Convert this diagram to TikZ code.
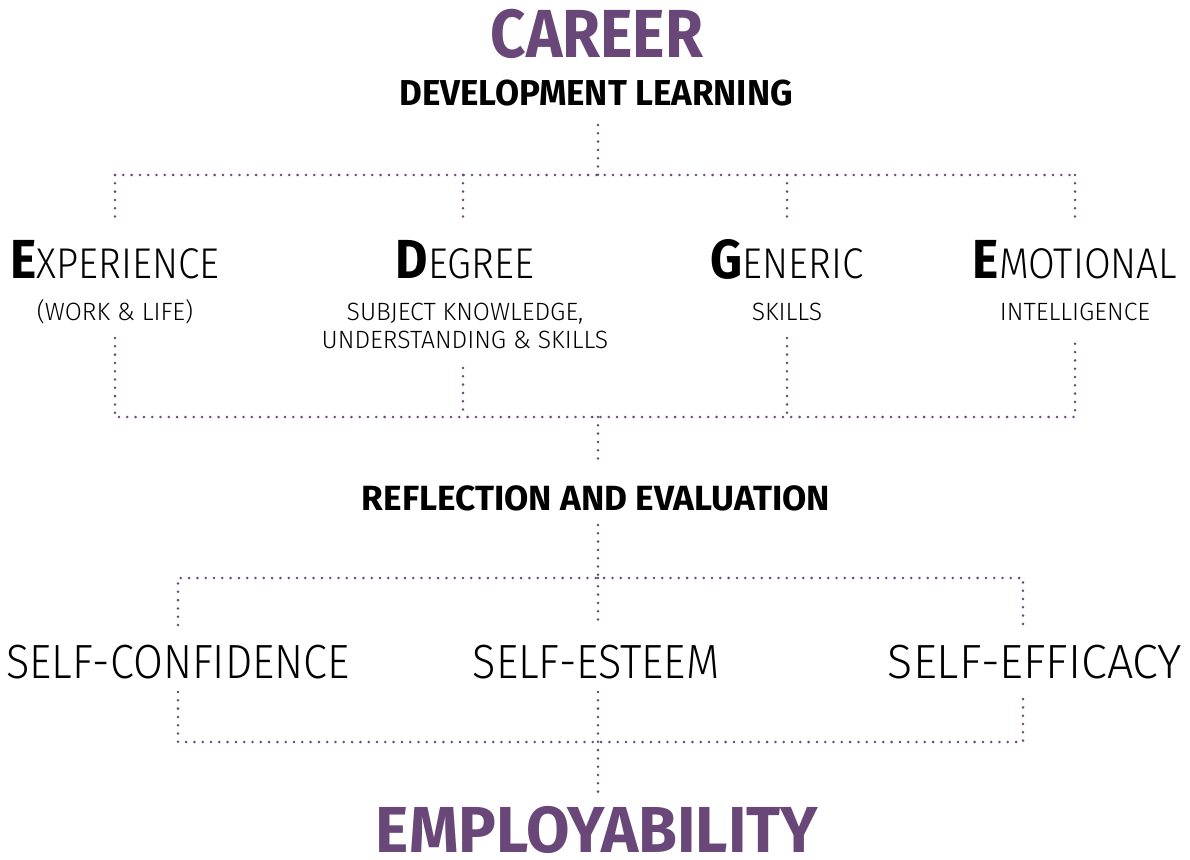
\documentclass[tikz,border=0pt]{standalone}
\usepackage{fontspec}
\setmainfont{Fira Sans}
\newfontfamily\lightT{Fira Sans}[UprightFont={* Light},FakeStretch=0.90]
\newfontfamily\lightE{Fira Sans}[UprightFont={* Light},FakeStretch=0.97]
\newfontfamily\lightS{Fira Sans}[UprightFont={* Light},FakeStretch=0.99]
\newfontfamily\boldA{Fira Sans}[UprightFont={* Bold},FakeStretch=0.97]
\newfontfamily\boldR{Fira Sans}[UprightFont={* Bold},FakeStretch=1.005]
\newfontfamily\boldC{Fira Sans}[UprightFont={* Bold},FakeStretch=0.905]
\definecolor{purp}{HTML}{694778}
\tikzset{
  dotline/.style={draw=purp, line width=2.8pt, line cap=round, dash pattern=on 0pt off 8.3pt},
  lbl/.style={inner sep=0pt, anchor=base, text depth=0pt},
  sub/.style={lbl, font=\lightS\fontsize{25}{25}\selectfont},
  selfbox/.style={lbl, font=\lightT\fontsize{48}{48}\selectfont},
}
\newcommand{\pillartitle}[2]{{\boldC\fontsize{55}{55}\selectfont #1}{\lightT\fontsize{43}{43}\selectfont #2}}
\begin{document}
\begin{tikzpicture}[x=1pt,y=-1pt]
\useasboundingbox (0,0) rectangle (1190,859);
% titles
\node[lbl, text=purp, font=\boldC\fontsize{68}{68}\selectfont] (career) at (597,57) {CAREER};
\node[lbl, font=\boldA\fontsize{36}{36}\selectfont] (dev) at (596,105) {DEVELOPMENT LEARNING};
% four pillars
\node[lbl] (exp) at (115,278) {\pillartitle{E}{XPERIENCE}};
\node[lbl] (deg) at (465,278) {\pillartitle{D}{EGREE}};
\node[lbl] (gen) at (787,278) {\pillartitle{G}{ENERIC}};
\node[lbl] (emo) at (1075,278) {\pillartitle{E}{MOTIONAL}};
\node[sub] (expsub) at (115,320) {(WORK \& LIFE)};
\node[sub] (degsub) at (465,320) {SUBJECT KNOWLEDGE,};
\node[sub] (degsub2) at (465,348) {UNDERSTANDING \& SKILLS};
\node[sub] (gensub) at (787,320) {SKILLS};
\node[sub] (emosub) at (1075,320) {INTELLIGENCE};
% reflection
\node[lbl, font=\boldR\fontsize{35}{35}\selectfont] (refl) at (596,510) {REFLECTION AND EVALUATION};
% self nodes
\node[selfbox] (conf) at (178,678) {SELF-CONFIDENCE};
\node[selfbox] (este) at (596,678) {SELF-ESTEEM};
\node[selfbox, font=\lightE\fontsize{48}{48}\selectfont] (effi) at (1035,678) {SELF-EFFICACY};
% employability
\node[lbl, text=purp, font=\boldA\fontsize{65}{65}\selectfont] (empl) at (597,852) {EMPLOYABILITY};
% connector points
\coordinate (d0) at (598,125);
\coordinate (j1) at (598,175);
\coordinate (a1) at (115,175); \coordinate (a2) at (463,175); \coordinate (a3) at (787,175); \coordinate (a4) at (1075,175);
\coordinate (b1) at (115,222); \coordinate (b2) at (463,222); \coordinate (b3) at (787,222); \coordinate (b4) at (1075,222);
\coordinate (c1) at (115,338); \coordinate (c2) at (463,368); \coordinate (c3) at (787,338); \coordinate (c4) at (1075,338);
\coordinate (e1) at (115,417); \coordinate (e2) at (463,417); \coordinate (e3) at (787,417); \coordinate (e4) at (1075,417);
\coordinate (j2) at (598,417); \coordinate (r0) at (598,465);
\coordinate (r1) at (598,525); \coordinate (j3) at (598,578);
\coordinate (f1) at (178,578); \coordinate (f3) at (1023,578);
\coordinate (g1) at (178,625); \coordinate (g2) at (598,625); \coordinate (g3) at (1023,625);
\coordinate (h1) at (178,692); \coordinate (h2) at (598,692); \coordinate (h3) at (1023,692);
\coordinate (k1) at (178,742); \coordinate (k2) at (598,742); \coordinate (k3) at (1023,742);
\coordinate (m0) at (598,793);
% connectors
\draw[dotline] (d0) -- (j1);
\draw[dotline] (a1) -- (a4);
\draw[dotline] (a1) -- (b1);
\draw[dotline] (a2) -- (b2);
\draw[dotline] (a3) -- (b3);
\draw[dotline] (a4) -- (b4);
\draw[dotline] (c1) -- (e1) -- (e4) -- (c4);
\draw[dotline] (c2) -- (e2);
\draw[dotline] (c3) -- (e3);
\draw[dotline] (j2) -- (r0);
\draw[dotline] (r1) -- (j3);
\draw[dotline] (g1) -- (f1) -- (f3) -- (g3);
\draw[dotline] (j3) -- (g2);
\draw[dotline] (h1) -- (k1) -- (k3) -- (h3);
\draw[dotline] (h2) -- (k2) -- (m0);
\end{tikzpicture}
\end{document}
